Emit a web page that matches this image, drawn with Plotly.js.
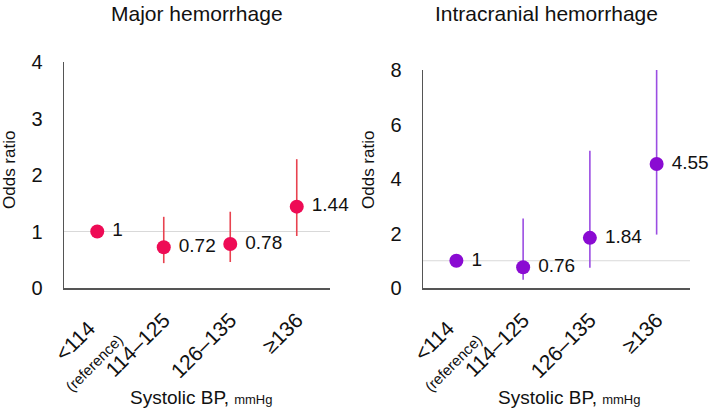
<!DOCTYPE html>
<html>
<head>
<meta charset="utf-8">
<script src="https://cdn.plot.ly/plotly-3.0.1.min.js"></script>
<style>html,body{margin:0;padding:0;background:#fff;}#chart{width:709px;height:411px;}</style>
</head>
<body>
<div id="chart"></div>
<script>
var categories = ["<114\u00a0\u00a0<br><span style='font-size:15px'>(reference)</span>", "114–125", "126–135", "≥136"];
var majorOR = [1, 0.72, 0.78, 1.44];
var majorUpper = [1, 1.26, 1.35, 2.28];
var majorLower = [1, 0.44, 0.46, 0.92];
var ichOR = [1, 0.76, 1.84, 4.55];
var ichUpper = [1, 2.55, 5.04, 8.0];
var ichLower = [1, 0.30, 0.74, 1.96];
var majorTicks = [0, 1, 2, 3, 4];
var ichTicks = [0, 2, 4, 6, 8];

var FONT = "Liberation Sans, Arial, sans-serif";
var idx = categories.map(function (_, i) { return i; });

function trace(or, up, lo, color, ecolor, xa, ya) {
  return {
    type: "scatter", mode: "markers+text",
    x: idx, y: or, xaxis: xa, yaxis: ya,
    text: or.map(function (v) { return " " + v; }),
    textposition: "middle right",
    textfont: {family: FONT, size: 19, color: "#111"},
    cliponaxis: false,
    marker: {size: 14, color: color},
    error_y: {
      type: "data", symmetric: false,
      array: up.map(function (u, i) { return u - or[i]; }),
      arrayminus: lo.map(function (l, i) { return or[i] - l; }),
      color: ecolor, thickness: 1.6, width: 0
    },
    hoverinfo: "skip", showlegend: false
  };
}

var data = [
  trace(majorOR, majorUpper, majorLower, "#EE0B55", "#E8434F", "x", "y"),
  trace(ichOR, ichUpper, ichLower, "#8A0BD2", "#9B4DE2", "x2", "y2")
];

function xaxis(domain, anchor) {
  return {
    domain: domain, anchor: anchor, range: [-0.5, 3.5],
    tickmode: "array", tickvals: idx, ticktext: categories,
    tickangle: -45, showgrid: false, zeroline: false,
    showline: true, linecolor: "#555", linewidth: 1.5,
    ticks: "", ticklabelstandoff: 10,
    tickfont: {family: FONT, size: 21, color: "#111"},
    fixedrange: true
  };
}
function yaxis(domain, anchor, range, ticks) {
  return {
    domain: domain, anchor: anchor, range: range,
    tickmode: "array", tickvals: ticks,
    showgrid: false, zeroline: false,
    showline: true, linecolor: "#555", linewidth: 1.5,
    ticks: "", ticklabelstandoff: 16,
    tickfont: {family: FONT, size: 20, color: "#111"},
    fixedrange: true
  };
}

var H = 411, W = 709;
function py(p) { return 1 - p / H; }
function px(p) { return p / W; }
function ann(text, x, y, size, angle) {
  return {text: text, xref: "paper", yref: "paper", x: px(x), y: py(y),
    xanchor: "center", yanchor: "middle", textangle: angle || 0,
    showarrow: false, font: {size: size, family: FONT, color: "#111"}};
}

var layout = {
  width: W, height: H,
  margin: {l: 0, r: 0, t: 0, b: 0},
  paper_bgcolor: "#fff", plot_bgcolor: "#fff",
  font: {family: FONT, color: "#111"},
  xaxis: xaxis([px(64), px(330)], "y"),
  yaxis: yaxis([py(288), py(62)], "x", [0, 4], majorTicks),
  xaxis2: xaxis([px(423), px(690)], "y2"),
  yaxis2: yaxis([py(288), py(70)], "x2", [0, 8], ichTicks),
  shapes: [
    {type: "line", xref: "x domain", yref: "y", x0: 0, x1: 1, y0: 1, y1: 1, line: {color: "#d9d9d9", width: 1}, layer: "below"},
    {type: "line", xref: "x2 domain", yref: "y2", x0: 0, x1: 1, y0: 1, y1: 1, line: {color: "#d9d9d9", width: 1}, layer: "below"}
  ],
  annotations: [
    ann("Major hemorrhage", 197, 14, 21),
    ann("Intracranial hemorrhage", 546, 14, 21),
    ann("Odds ratio", 10, 170, 17, -90),
    ann("Odds ratio", 369, 170, 17, -90),
    ann("Systolic BP, <span style='font-size:13px'>mmHg</span>", 201, 397, 19),
    ann("Systolic BP, <span style='font-size:13px'>mmHg</span>", 569, 397, 19)
  ]
};

Plotly.newPlot("chart", data, layout, {displayModeBar: false, staticPlot: true});
</script>
</body>
</html>
